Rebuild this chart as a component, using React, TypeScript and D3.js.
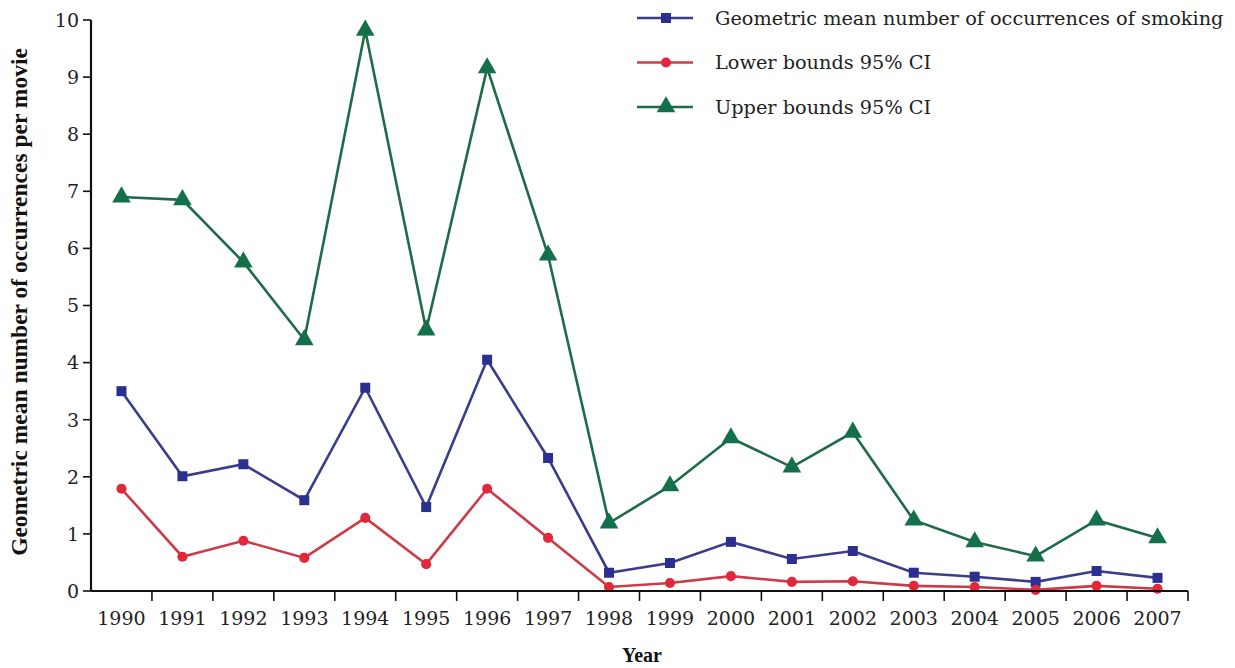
import * as d3 from "d3";
import * as React from "react";

const years = ["1990", "1991", "1992", "1993", "1994", "1995", "1996", "1997", "1998",
    "1999", "2000", "2001", "2002", "2003", "2004", "2005", "2006", "2007"];

const geoMean = [3.5, 2.01, 2.22, 1.59, 3.56, 1.47, 4.05, 2.33, 0.32,
    0.49, 0.86, 0.56, 0.70, 0.32, 0.25, 0.16, 0.35, 0.23];
const lowerCI = [1.79, 0.6, 0.88, 0.58, 1.28, 0.47, 1.79, 0.93, 0.07,
    0.14, 0.26, 0.16, 0.17, 0.09, 0.07, 0.02, 0.09, 0.04];
const upperCI = [6.9, 6.85, 5.76, 4.4, 9.82, 4.57, 9.16, 5.88, 1.19,
    1.84, 2.68, 2.17, 2.78, 1.24, 0.86, 0.61, 1.24, 0.93];

const yTicks = [0, 1, 2, 3, 4, 5, 6, 7, 8, 9, 10];

const seriesNames = [
    "Geometric mean number of occurrences of smoking",
    "Lower bounds 95% CI",
    "Upper bounds 95% CI",
];

const FONT = "'DejaVu Serif', serif";
const BOLD_FONT = "'Liberation Serif', 'Times New Roman', serif";

interface Series {
    name: string;
    values: number[];
    line: string;
    fill: string;
    symbol: d3.SymbolType;
    size: number;
}

const series: Series[] = [
    { name: seriesNames[2], values: upperCI, line: "#1f6b47", fill: "#13704a", symbol: d3.symbolTriangle, size: 150 },
    { name: seriesNames[0], values: geoMean, line: "#3a3c8c", fill: "#2b2f8f", symbol: d3.symbolSquare, size: 100 },
    { name: seriesNames[1], values: lowerCI, line: "#cc3b48", fill: "#e3273a", symbol: d3.symbolCircle, size: 80 },
];

export default function App(): JSX.Element {
    const ref = React.useRef<SVGSVGElement>(null);

    React.useEffect(() => {
        const svg = d3.select(ref.current);
        svg.selectAll("*").remove();

        const x = d3.scaleBand<string>().domain(years).range([91, 1188]);
        const y = d3.scaleLinear().domain([0, 10]).range([591, 20]);
        const cx = (d: string) => (x(d) as number) + x.bandwidth() / 2;

        // series lines + markers
        const line = d3.line<number>()
            .x((_, i) => cx(years[i]))
            .y(v => y(v));

        series.forEach(s => {
            const g = svg.append("g");
            g.append("path")
                .attr("d", line(s.values))
                .attr("fill", "none")
                .attr("stroke", s.line)
                .attr("stroke-width", 2.6);
            g.selectAll("path.m")
                .data(s.values)
                .enter()
                .append("path")
                .attr("class", "m")
                .attr("d", d3.symbol().type(s.symbol).size(s.size)())
                .attr("transform", (v, i) => `translate(${cx(years[i])},${y(v)})`)
                .attr("fill", s.fill);
        });

        // y axis
        const yAxis = svg.append("g").attr("transform", "translate(91,0)");
        yAxis.append("line")
            .attr("x1", 0).attr("x2", 0)
            .attr("y1", y(10)).attr("y2", y(0))
            .attr("stroke", "#111").attr("stroke-width", 2.2);
        yAxis.selectAll("g.t")
            .data(yTicks)
            .enter()
            .append("g")
            .attr("transform", d => `translate(0,${y(d)})`)
            .each(function (d) {
                const t = d3.select(this);
                t.append("line").attr("x1", -8).attr("x2", 0).attr("stroke", "#111").attr("stroke-width", 1.6);
                t.append("text")
                    .attr("x", -12)
                    .attr("dy", "0.36em")
                    .attr("text-anchor", "end")
                    .attr("font-family", FONT)
                    .attr("font-size", 19)
                    .attr("fill", "#222")
                    .text(d);
            });

        // x axis
        const xAxis = svg.append("g").attr("transform", `translate(0,${y(0)})`);
        xAxis.append("line")
            .attr("x1", 91).attr("x2", 1188)
            .attr("stroke", "#111").attr("stroke-width", 2.2);
        const bounds = years.map(d => (x(d) as number) + x.bandwidth());
        xAxis.selectAll("line.t")
            .data(bounds)
            .enter()
            .append("line")
            .attr("class", "t")
            .attr("x1", d => d).attr("x2", d => d)
            .attr("y1", 0).attr("y2", 10)
            .attr("stroke", "#111").attr("stroke-width", 1.6);
        xAxis.selectAll("text")
            .data(years)
            .enter()
            .append("text")
            .attr("x", d => cx(d))
            .attr("y", 34)
            .attr("text-anchor", "middle")
            .attr("font-family", FONT)
            .attr("font-size", 19)
            .attr("fill", "#222")
            .text(d => d);

        // axis titles
        svg.append("text")
            .attr("x", 642).attr("y", 662)
            .attr("text-anchor", "middle")
            .attr("font-family", BOLD_FONT)
            .attr("font-weight", "bold")
            .attr("font-size", 20)
            .attr("fill", "#111")
            .text("Year");
        svg.append("text")
            .attr("transform", "translate(27,302) rotate(-90)")
            .attr("text-anchor", "middle")
            .attr("font-family", BOLD_FONT)
            .attr("font-weight", "bold")
            .attr("font-size", 23.5)
            .attr("fill", "#111")
            .text("Geometric mean number of occurrences per movie");

        // legend
        const legendOrder = [series[1], series[2], series[0]];
        const legend = svg.append("g").attr("transform", "translate(637,18)");
        legendOrder.forEach((s, i) => {
            const row = legend.append("g").attr("transform", `translate(0,${i * 44.5})`);
            row.append("line")
                .attr("x1", 0).attr("x2", 56)
                .attr("stroke", s.line).attr("stroke-width", 2.6);
            row.append("path")
                .attr("d", d3.symbol().type(s.symbol).size(s.size)())
                .attr("transform", "translate(29,0)")
                .attr("fill", s.fill);
            row.append("text")
                .attr("x", 78)
                .attr("dy", "0.36em")
                .attr("font-family", FONT)
                .attr("font-size", 19.3)
                .attr("fill", "#222")
                .text(s.name);
        });
    }, []);

    return (
        <svg
            ref={ref}
            width={1235}
            height={668}
            style={{ position: "absolute", left: 0, top: 0, background: "#fff" }}
        />
    );
}
